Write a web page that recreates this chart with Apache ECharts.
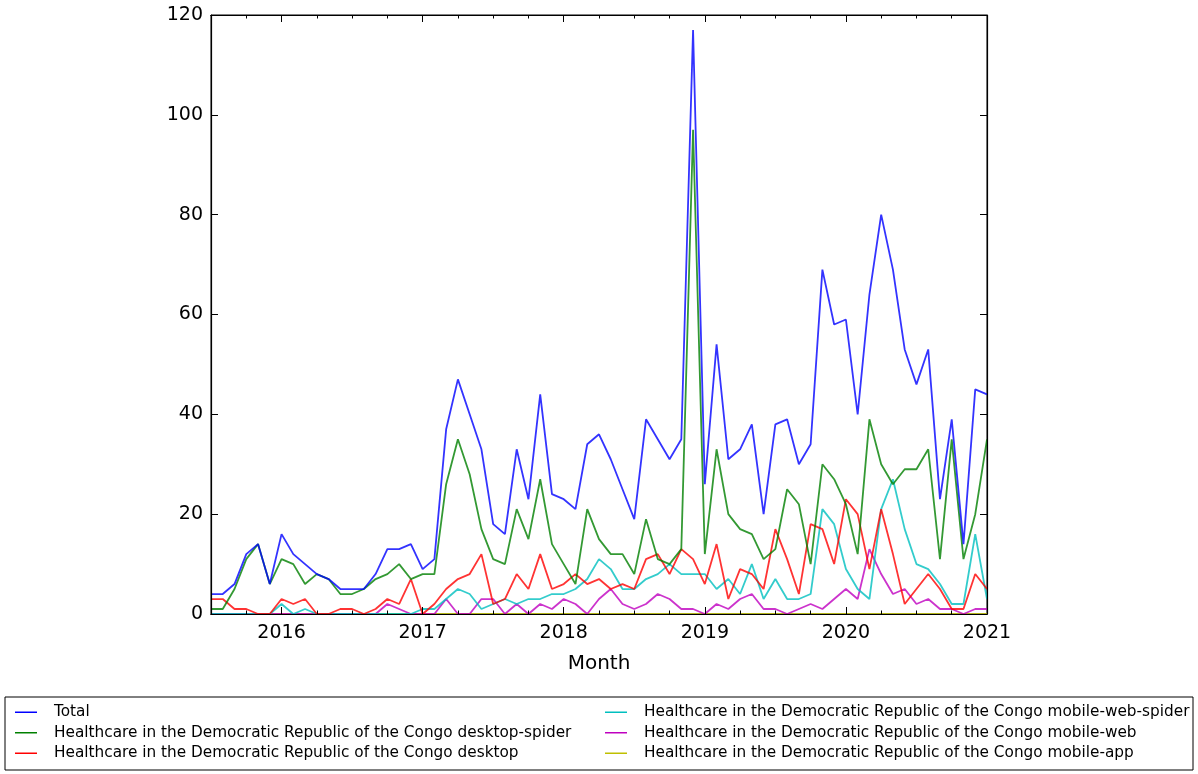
<!DOCTYPE html>
<html>
<head>
<meta charset="utf-8">
<script src="https://cdn.jsdelivr.net/npm/echarts@6/dist/echarts.min.js"></script>
<style>
  html, body { margin: 0; padding: 0; background: #fff; }
  #chart { width: 1198px; height: 774px; }
</style>
</head>
<body>
<div id="chart"></div>
<script>
// monthly counts, Jul 2015 .. Jan 2021
const months = [
  '2015-07','2015-08','2015-09','2015-10','2015-11','2015-12',
  '2016-01','2016-02','2016-03','2016-04','2016-05','2016-06','2016-07','2016-08','2016-09','2016-10','2016-11','2016-12',
  '2017-01','2017-02','2017-03','2017-04','2017-05','2017-06','2017-07','2017-08','2017-09','2017-10','2017-11','2017-12',
  '2018-01','2018-02','2018-03','2018-04','2018-05','2018-06','2018-07','2018-08','2018-09','2018-10','2018-11','2018-12',
  '2019-01','2019-02','2019-03','2019-04','2019-05','2019-06','2019-07','2019-08','2019-09','2019-10','2019-11','2019-12',
  '2020-01','2020-02','2020-03','2020-04','2020-05','2020-06','2020-07','2020-08','2020-09','2020-10','2020-11','2020-12',
  '2021-01'
];

const total = [4,4,6,12,14,6,16,12,10,8,7,5,5,5,8,13,13,14,9,11,37,47,40,33,18,16,33,23,44,24,23,21,34,36,31,25,19,39,35,31,35,117,26,54,31,33,38,20,38,39,30,34,69,58,59,40,64,80,69,53,46,53,23,39,14,45,44];
const desktopSpider = [1,1,5,11,14,6,11,10,6,8,7,4,4,5,7,8,10,7,8,8,26,35,28,17,11,10,21,15,27,14,10,6,21,15,12,12,8,19,11,10,13,97,12,33,20,17,16,11,13,25,22,10,30,27,22,12,39,30,26,29,29,33,11,35,11,20,35];
const desktop = [3,3,1,1,0,0,3,2,3,0,0,1,1,0,1,3,2,7,0,2,5,7,8,12,2,3,8,5,12,5,6,8,6,7,5,6,5,11,12,8,13,11,6,14,3,9,8,5,17,11,4,18,17,10,23,20,9,21,12,2,5,8,5,1,1,8,5];
const mobileWebSpider = [0,0,0,0,0,0,2,0,1,0,0,0,0,0,0,0,0,0,1,1,3,5,4,1,2,3,2,3,3,4,4,5,7,11,9,5,5,7,8,10,8,8,8,5,7,4,10,3,7,3,3,4,21,18,9,5,3,21,27,17,10,9,6,2,2,16,3];
const mobileWeb = [0,0,0,0,0,0,0,0,0,0,0,0,0,0,0,2,1,0,0,0,3,0,0,3,3,0,2,0,2,1,3,2,0,3,5,2,1,2,4,3,1,1,0,2,1,3,4,1,1,0,1,2,1,3,5,3,13,8,4,5,2,3,1,1,0,1,1];
const mobileApp = [0,0,0,0,0,0,0,0,0,0,0,0,0,0,0,0,0,0,0,0,0,0,0,0,0,0,0,0,0,0,0,0,0,0,0,0,0,0,0,0,0,0,0,0,0,0,0,0,0,0,0,0,0,0,0,0,0,0,0,0,0,0,0,0,0,0,0];

const yTicks = [0, 20, 40, 60, 80, 100, 120];

const prefix = 'Healthcare in the Democratic Republic of the Congo ';
const lines = [
  { name: 'Total', data: total, color: '#0000ff' },
  { name: prefix + 'desktop-spider', data: desktopSpider, color: '#008000' },
  { name: prefix + 'desktop', data: desktop, color: '#ff0000' },
  { name: prefix + 'mobile-web-spider', data: mobileWebSpider, color: '#00bfbf' },
  { name: prefix + 'mobile-web', data: mobileWeb, color: '#bf00bf' },
  { name: prefix + 'mobile-app', data: mobileApp, color: '#bfbf00' }
];

const font = 'DejaVu Sans';
const isYear = (i, v) => v.slice(5) === '01';
const isQuarter = (i) => i % 3 === 0;

function xAxis(position, tickFn, len, labels) {
  return {
    type: 'category',
    position: position,
    data: months,
    boundaryGap: false,
    z: 5,
    axisLine: { show: true, lineStyle: { color: '#000', width: 1.2 } },
    axisTick: { show: true, inside: true, length: len, interval: tickFn, lineStyle: { color: '#000' } },
    axisLabel: labels ? {
      show: true, interval: isYear, formatter: v => v.slice(0, 4),
      color: '#000', fontSize: 19, fontFamily: font, margin: 10
    } : { show: false },
    splitLine: { show: false }
  };
}

function yAxis(position, labels) {
  return {
    type: 'value',
    position: position,
    min: yTicks[0],
    max: yTicks[yTicks.length - 1],
    interval: 20,
    z: 5,
    axisLine: { show: true, lineStyle: { color: '#000', width: 1.2 } },
    axisTick: { show: true, inside: true, length: 7, lineStyle: { color: '#000' } },
    axisLabel: labels ? { show: true, color: '#000', fontSize: 19, fontFamily: font, margin: 8 } : { show: false },
    splitLine: { show: false }
  };
}

const x0 = xAxis('bottom', isYear, 7, true);
x0.name = 'Month';
x0.nameLocation = 'middle';
x0.nameGap = 40;
x0.nameTextStyle = { color: '#000', fontSize: 20, fontFamily: font };

function legend(items, left) {
  return {
    orient: 'vertical',
    left: left,
    top: 697,
    itemGap: 0,
    itemWidth: 22,
    itemHeight: 1.5,
    icon: 'rect',
    data: items.map(s => s.name),
    textStyle: { color: '#000', fontSize: 15.3, fontFamily: font, lineHeight: 20.5, padding: [0, 0, 0, 12] }
  };
}

const chart = echarts.init(document.getElementById('chart'));
chart.setOption({
  animation: false,
  backgroundColor: '#fff',
  textStyle: { fontFamily: font },
  grid: { left: 211, top: 15, right: 211, bottom: 160, show: true, borderColor: '#000', borderWidth: 1 },
  xAxis: [
    x0,
    xAxis('bottom', isQuarter, 3.5, false),
    xAxis('top', isYear, 7, false),
    xAxis('top', isQuarter, 3.5, false)
  ],
  yAxis: [yAxis('left', true), yAxis('right', false)],
  legend: [legend(lines.slice(0, 3), 10), legend(lines.slice(3), 600)],
  graphic: [{
    type: 'rect',
    shape: { x: 5, y: 697, width: 1188, height: 73 },
    style: { fill: 'none', stroke: '#000', lineWidth: 1 }
  }],
  series: lines.map((s, i) => ({
    name: s.name,
    type: 'line',
    data: s.data,
    xAxisIndex: 0,
    yAxisIndex: 0,
    z: 2 - i * 0.1,
    showSymbol: false,
    color: s.color,
    lineStyle: { color: s.color, width: 1.8, opacity: 0.8 },
    emphasis: { disabled: true }
  }))
});
</script>
</body>
</html>
